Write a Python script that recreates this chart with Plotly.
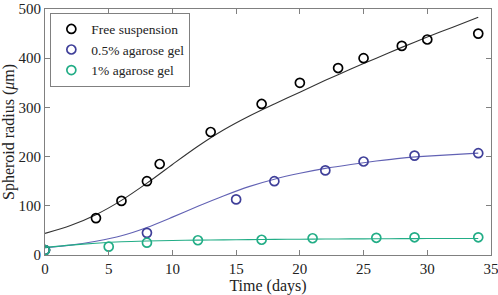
import plotly.graph_objects as go

# Observed data
free_days = [0, 4, 6, 8, 9, 13, 17, 20, 23, 25, 28, 30, 34]
free_radius = [10, 75, 110, 150, 185, 250, 307, 350, 380, 400, 425, 438, 450]

agar05_days = [0, 8, 15, 18, 22, 25, 29, 34]
agar05_radius = [10, 45, 113, 150, 172, 190, 202, 207]

agar1_days = [0, 5, 8, 12, 17, 21, 26, 29, 34]
agar1_radius = [10, 17, 25, 30, 31, 34, 35, 36, 36]

# Fitted model curves
fit_days = [0, 2, 4, 6, 8, 10, 12, 14, 16, 18, 20, 22, 24, 26, 28, 30, 32, 34]
fit_free = [44, 60, 82, 111, 146, 184, 221, 254, 282, 307, 331, 355, 378, 400, 422, 443, 463, 483]
fit_agar05 = [15, 20, 28, 39, 56, 77, 99, 120, 139, 154, 166, 176, 184, 191, 197, 201, 204, 207]
fit_agar1 = [15, 20, 24, 27, 28.5, 29.5, 30.3, 30.8, 31.3, 31.8, 32.1, 32.4, 32.7, 33, 33.2, 33.4, 33.5, 33.6]

x_ticks = [0, 5, 10, 15, 20, 25, 30, 35]
y_ticks = [0, 100, 200, 300, 400, 500]

BLACK = "#000000"
BLUE = "#3f3f99"
BLUE_LINE = "#6262b4"
GREEN = "#22ad86"
FONT = "Liberation Serif"

fig = go.Figure()

for days, vals, col in [(fit_days, fit_free, "#333333"),
                        (fit_days, fit_agar05, BLUE_LINE),
                        (fit_days, fit_agar1, GREEN)]:
    fig.add_trace(go.Scatter(x=days, y=vals, mode="lines",
                             line=dict(color=col, width=1.1, shape="spline", smoothing=0.8),
                             showlegend=False, hoverinfo="skip"))

for name, days, vals, col in [("Free suspension", free_days, free_radius, BLACK),
                              ("0.5% agarose gel", agar05_days, agar05_radius, BLUE),
                              ("1% agarose gel", agar1_days, agar1_radius, GREEN)]:
    fig.add_trace(go.Scatter(x=days, y=vals, mode="markers", name=name,
                             marker=dict(symbol="circle-open", size=9, color=col,
                                         line=dict(width=1.7, color=col))))

axis_common = dict(showline=True, linecolor="#808080", linewidth=1, mirror="ticks",
                   ticks="inside", ticklen=5, tickcolor="#808080", tickwidth=1,
                   showgrid=False, zeroline=False, ticklabeloverflow="allow",
                   automargin=False,
                   tickfont=dict(family=FONT, size=15, color="#222222"))

fig.update_layout(
    width=498, height=295,
    font=dict(family=FONT, color="#222222"),
    margin=dict(l=45, r=7, t=9, b=40),
    paper_bgcolor="white", plot_bgcolor="white",
    xaxis=dict(range=[0, 35], tickvals=x_ticks,
               title=dict(text="Time (days)", font=dict(family=FONT, size=16, color="#222222"), standoff=4),
               **axis_common),
    yaxis=dict(range=[0, 500], tickvals=y_ticks,
               title=dict(text="Spheroid radius (<i>μ</i>m)", font=dict(family=FONT, size=16, color="#222222"), standoff=2),
               **axis_common),
    legend=dict(x=0.012, y=0.985, xanchor="left", yanchor="top",
                bordercolor="#808080", borderwidth=1, bgcolor="white",
                font=dict(family=FONT, size=13.5, color="#222222"),
                itemwidth=30, tracegroupgap=0),
    showlegend=True,
)

fig.write_html("out.html", config={"displayModeBar": False},
               post_script="document.body.style.margin='0';document.body.style.overflow='hidden';")
